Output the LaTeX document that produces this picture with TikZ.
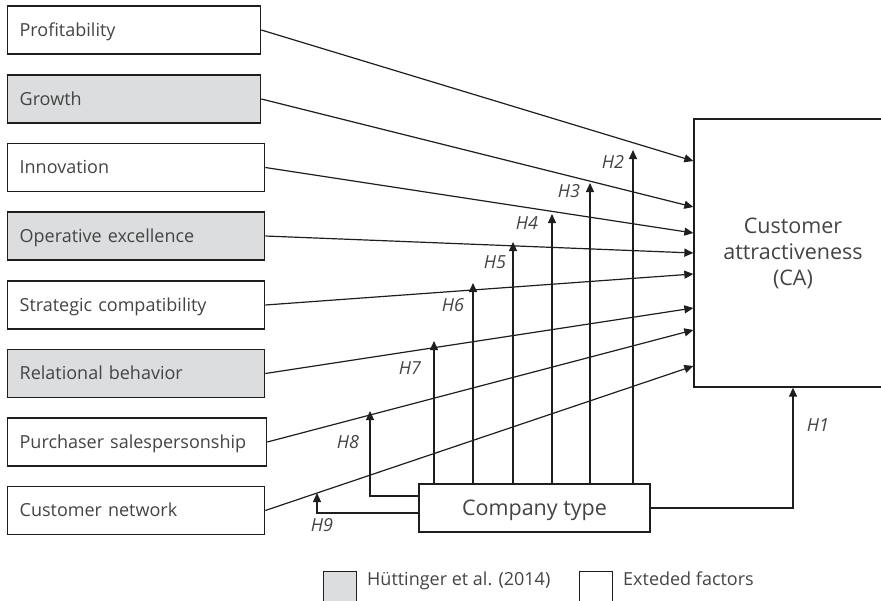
\documentclass[tikz,border=0pt]{standalone}
\usepackage{fontspec}
\setmainfont{Open Sans}
\usetikzlibrary{arrows.meta}
\definecolor{ink}{HTML}{1E1E1E}
\definecolor{txt}{HTML}{444444}
\definecolor{lit}{HTML}{DCDDDF}
\begin{document}
\begin{tikzpicture}[x=1pt,y=-1pt,
  factor/.style={draw=ink, line width=1.3pt, anchor=west, minimum height=48pt,
    inner xsep=12pt, inner ysep=0pt, align=left, text=txt,
    font=\fontsize{18}{21}\selectfont, text height=12.9pt, text depth=0pt},
  oldfactor/.style={factor, fill=lit},
  newfactor/.style={factor, fill=white},
  bigbox/.style={draw=ink, line width=1.3pt, fill=white, text=txt,
    font=\fontsize{21.5}{26}\selectfont},
  link/.style={draw=ink, line width=1.2pt, -{Triangle[length=9pt,width=8pt]}},
  hyp/.style={text=txt, font=\fontsize{18}{21}\selectfont\itshape, inner sep=0pt},
  keybox/.style={draw=ink, line width=1.3pt, minimum width=33pt, minimum height=40pt,
    anchor=north west, inner sep=0pt},
  keytext/.style={text=txt, font=\fontsize{18}{21}\selectfont, anchor=base west, inner sep=0pt}]
\useasboundingbox (0,0) rectangle (881,600);
\clip (0,0) rectangle (881,600);

% antecedent factors
\node[newfactor, text width=229pt] (prof)  at (7,30)    {Profitability};
\node[oldfactor, text width=229pt] (grow)  at (7,99)    {Growth};
\node[newfactor, text width=233pt] (innov) at (7,167.5) {Innovation};
\node[oldfactor, text width=233pt] (oper)  at (7,236)   {Operative excellence};
\node[newfactor, text width=233pt] (strat) at (7,305)   {Strategic compatibility};
\node[oldfactor, text width=233pt] (rel)   at (7,373.5) {Relational behavior};
\node[newfactor, text width=235pt] (purch) at (7,442)   {Purchaser salespersonship};
\node[newfactor, text width=233pt] (net)   at (7,510.5) {Customer network};

% outcome and moderator
\node[bigbox, align=center, minimum width=198pt, minimum height=268pt] (ca) at (793,253)
  {Customer\\attractiveness\\(CA)};
\node[bigbox, minimum width=231pt, minimum height=48pt, inner sep=0pt,
  text height=15.4pt, text depth=0pt] (ct) at (534.5,508) {Company type};

% direct effects
\draw[link] (prof.east)  -- (ca.west |- 0,161);
\draw[link] (grow.east)  -- (ca.west |- 0,207);
\draw[link] (innov.east) -- (ca.west |- 0,233);
\draw[link] (oper.east)  -- (ca.west |- 0,253);
\draw[link] (strat.east) -- (ca.west |- 0,274);
\draw[link] (rel.east)   -- (ca.west |- 0,308);
\draw[link] (purch.east) -- (ca.west |- 0,330);
\draw[link] (net.east)   -- (ca.west |- 0,366);

% moderating effects
\coordinate (h2) at (633,150);
\coordinate (h3) at (590,183);
\coordinate (h4) at (552,214);
\coordinate (h5) at (513,242);
\coordinate (h6) at (473,283);
\coordinate (h7) at (434,341);
\coordinate (h8) at (370,411);
\coordinate (h9) at (317,493);
\draw[link] (ct.north -| h2) -- (h2);
\draw[link] (ct.north -| h3) -- (h3);
\draw[link] (ct.north -| h4) -- (h4);
\draw[link] (ct.north -| h5) -- (h5);
\draw[link] (ct.north -| h6) -- (h6);
\draw[link] (ct.north -| h7) -- (h7);
\draw[link] (ct.west |- 0,496) -| (h8);
\draw[link] (ct.west |- 0,513) -| (h9);
\draw[link] (ct.east) -| (ca.south);

\node[hyp] (l1) at (818,425) {H1};
\node[hyp] (l2) at (613,162) {H2};
\node[hyp] (l3) at (569,191) {H3};
\node[hyp] (l4) at (527,223) {H4};
\node[hyp] (l5) at (495,262) {H5};
\node[hyp] (l6) at (453,305) {H6};
\node[hyp] (l7) at (410,368) {H7};
\node[hyp] (l8) at (348,442) {H8};
\node[hyp] (l9) at (322,525) {H9};

% key
\node[keybox, fill=lit]   (k1) at (323,571) {};
\node[keytext]            (k1t) at (367,585) {Hüttinger et al. (2014)};
\node[keybox, fill=white] (k2) at (579,571) {};
\node[keytext]            (k2t) at (623,585) {Exteded factors};
\end{tikzpicture}
\end{document}
